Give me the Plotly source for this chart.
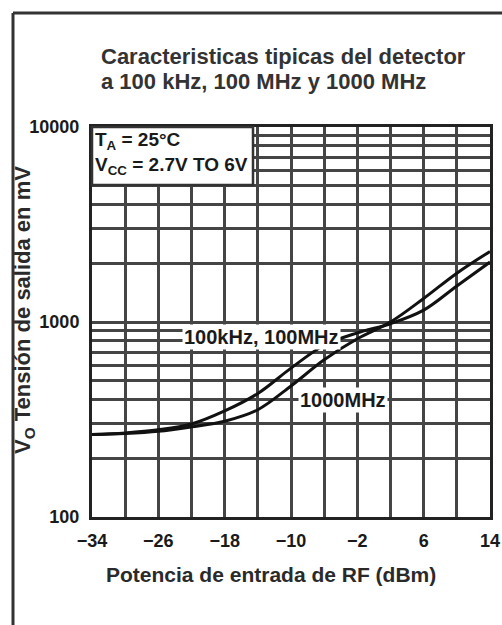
import plotly.graph_objects as go

# ---- data ----
x_dbm = [-34, -30, -26, -22, -18, -14, -10, -6, -2, 2, 6, 10, 14]
v_100k_100m = [265, 270, 280, 300, 350, 430, 580, 760, 880, 980, 1150, 1530, 2030]
v_1000m = [265, 268, 275, 290, 310, 355, 470, 640, 820, 1000, 1320, 1780, 2300]

x_tickvals = [-34, -30, -26, -22, -18, -14, -10, -6, -2, 2, 6, 10, 14]
x_ticktext = ["−34", "", "−26", "", "−18", "", "−10", "", "−2", "", "6", "", "14"]
y_decades = [100, 1000, 10000]
y_decade_labels = ["100", "1000", "10000"]

title_lines = ["Caracteristicas tipicas del detector", "a 100 kHz, 100 MHz y 1000 MHz"]
x_title = "Potencia de entrada de RF (dBm)"
y_title = "V<sub>O</sub> Tensión de salida en mV"
cond_lines = ["T<sub>A</sub> = 25°C", "V<sub>CC</sub> = 2.7V TO 6V"]
label_a = "100kHz, 100MHz"
label_b = "1000MHz"

# log grid values (1..9 x decades)
y_tickvals = [m * d for d in [100, 1000] for m in range(1, 10)] + [10000]
y_ticktext = [y_decade_labels[y_decades.index(v)] if v in y_decades else "" for v in y_tickvals]

SANS = "Liberation Sans, Arial, sans-serif"
GRID = "#454545"
INK = "#1a1a1a"

# figure fills the page exactly (body margin removed below)
OFF = 0
W, H = 502, 625
# plot area in page pixels: x 92..490, y 127..517
L = 92 - OFF
T = 127 - OFF
R = W - (490 - OFF)
B = H - (517 - OFF)
PW, PH = W - L - R, H - T - B


def px(xp):
    return (xp - OFF - L) / PW


def py(yp):
    return (H - B - (yp - OFF)) / PH


fig = go.Figure()
fig.add_trace(go.Scatter(x=x_dbm, y=v_100k_100m, mode="lines", name=label_a,
                         line=dict(color="#111", width=3, shape="spline")))
fig.add_trace(go.Scatter(x=x_dbm, y=v_1000m, mode="lines", name=label_b,
                         line=dict(color="#111", width=3, shape="spline")))

fig.update_layout(
    width=W, height=H,
    margin=dict(l=L, r=R, t=T, b=B),
    paper_bgcolor="white", plot_bgcolor="white",
    showlegend=False,
    font=dict(family=SANS, color=INK),
)
fig.update_xaxes(
    range=[-34, 14], tickvals=x_tickvals, ticktext=x_ticktext,
    showgrid=True, gridcolor=GRID, gridwidth=2.5,
    showline=True, linecolor="#222", linewidth=3, mirror=True,
    ticks="", ticklabelstandoff=5, zeroline=False, automargin=False,
    ticklabeloverflow="allow",
    tickfont=dict(family=SANS, size=18, color=INK, weight="bold"),
)
fig.update_yaxes(
    type="log", range=[2, 4], tickvals=y_tickvals, ticktext=y_ticktext,
    showgrid=True, gridcolor=GRID, gridwidth=2.5,
    showline=True, linecolor="#222", linewidth=3, mirror=True,
    ticks="", ticklabelstandoff=6, zeroline=False, automargin=False,
    tickfont=dict(family=SANS, size=18, color=INK, weight="bold"),
)

# axis titles
fig.add_annotation(xref="paper", yref="paper", x=px(271), y=py(574),
                   xanchor="center", yanchor="middle", showarrow=False,
                   text=x_title,
                   font=dict(family=SANS, size=21, color="#2a2a2a", weight="bold"))
fig.add_annotation(xref="paper", yref="paper", x=px(24), y=py(310),
                   xanchor="center", yanchor="middle", showarrow=False,
                   textangle=-90, text=y_title,
                   font=dict(family=SANS, size=22, color="#2a2a2a", weight="bold"))

# title (two lines, left aligned)
for line, yc in zip(title_lines, [57, 81]):
    fig.add_annotation(xref="paper", yref="paper", x=px(99), y=py(yc),
                       xanchor="left", yanchor="middle", align="left", showarrow=False,
                       text=line,
                       font=dict(family=SANS, size=22, color="#333", weight="bold"))

# condition box
fig.add_shape(type="rect", xref="paper", yref="paper",
              x0=0, x1=px(253), y0=py(185), y1=1,
              fillcolor="white", line=dict(color="#333", width=2.5), layer="above")
for line, yc in zip(cond_lines, [141, 166]):
    fig.add_annotation(xref="paper", yref="paper", x=px(93), y=py(yc),
                       xanchor="left", yanchor="middle", align="left", showarrow=False,
                       text=line,
                       font=dict(family=SANS, size=19, color=INK, weight="bold"))

# curve labels
fig.add_annotation(x=-13.6, y=3.0 - 15 / 195, text=label_a, showarrow=False,
                   bgcolor="white", borderpad=1,
                   font=dict(family=SANS, size=20, color=INK, weight="bold"))
fig.add_annotation(x=-3.7, y=2.602, text=label_b, showarrow=False,
                   bgcolor="white", borderpad=1,
                   font=dict(family=SANS, size=20, color=INK, weight="bold"))

# outer frame (left and top edges of the page border)
fig.add_shape(type="line", xref="paper", yref="paper", x0=px(13), x1=px(13),
              y0=py(640), y1=py(13), line=dict(color="#333", width=3))
fig.add_shape(type="line", xref="paper", yref="paper", x0=px(13), x1=px(520),
              y0=py(13), y1=py(13), line=dict(color="#333", width=3))

fig.write_html(
    "out.html",
    config={"displayModeBar": False},
    post_script="document.body.style.margin='0';document.body.style.overflow='hidden';"
                "document.documentElement.style.overflow='hidden';",
)
